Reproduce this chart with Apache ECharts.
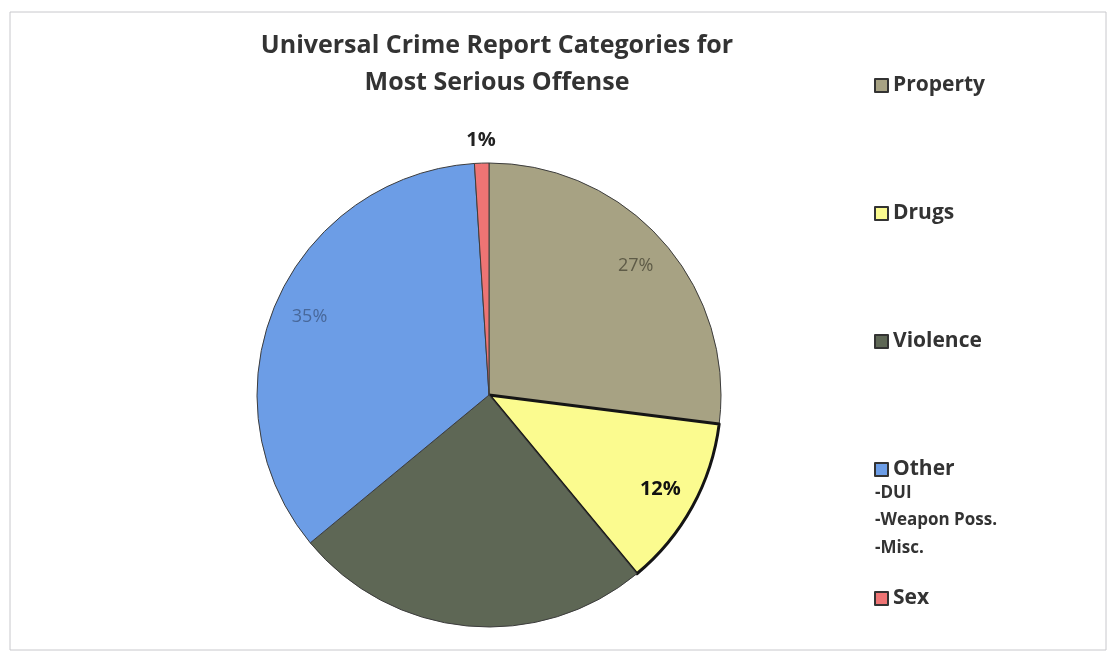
<!DOCTYPE html>
<html><head><meta charset="utf-8">
<script src="https://cdn.jsdelivr.net/npm/echarts@6/dist/echarts.min.js"></script>
<style>html,body{margin:0;padding:0;background:#fff}#c{width:1109px;height:656px}</style>
</head><body><div id="c"></div>
<script>
const categories = ['Property', 'Drugs', 'Violence', 'Other', 'Sex'];
const values = [27, 12, 25, 35, 1];
const labelTexts = ['27%', '12%', '', '35%', '1%'];
const otherSubItems = ['-DUI', '-Weapon Poss.', '-Misc.'];

const colors = ['#a7a283', '#fbfb8f', '#5e6755', '#6c9de6', '#ee7474'];
const FONT = '"Open Sans", "Noto Sans", sans-serif';

const chart = echarts.init(document.getElementById('c'), null, {renderer: 'canvas'});
const C = [489, 395], R = 232;

const mainData = categories.map((n, i) => ({
  name: n, value: values[i],
  itemStyle: {color: colors[i], borderColor: i === 1 ? '#151515' : '#3d3d3d', borderWidth: i === 1 ? 3 : 1}
}));

const innerLabelStyle = {
  Property: {color: '#5e5b47', fontWeight: 'normal', fontSize: 18},
  Drugs: {color: '#111', fontWeight: 'bold', fontSize: 20},
  Other: {color: '#48689a', fontWeight: 'normal', fontSize: 18}
};

const ringData = categories.map((n, i) => ({
  name: n, value: values[i],
  label: innerLabelStyle[n] ? Object.assign({show: true, formatter: labelTexts[i]}, innerLabelStyle[n]) : {show: false}
}));
const outerData = categories.map((n, i) => ({
  name: n, value: values[i],
  label: n === 'Sex' ? {show: true, formatter: labelTexts[i], color: '#222', fontWeight: 'bold', fontSize: 20} : {show: false}
}));

const legends = categories.map((n, i) => ({
  data: [n], left: 869, top: [70, 198, 326, 454, 583][i],
  icon: 'rect', itemWidth: 13, itemHeight: 13, itemGap: 0,
  itemStyle: {borderColor: '#333', borderWidth: 2},
  textStyle: {fontFamily: FONT, fontWeight: 'bold', fontSize: 21, color: '#333'},
  selectedMode: false
}));

chart.setOption({
  animation: false,
  backgroundColor: '#fff',
  title: {
    text: 'Universal Crime Report Categories for\nMost Serious Offense',
    left: 492, top: 22, textAlign: 'center',
    textStyle: {fontFamily: FONT, fontWeight: 'bold', fontSize: 25, color: '#333', lineHeight: 37}
  },
  legend: legends,
  graphic: [
    {type: 'rect', shape: {x: 10, y: 12, width: 1096, height: 638}, style: {fill: 'none', stroke: '#c8c8cc', lineWidth: 1}, silent: true},
    {type: 'text', left: 875, top: 479, style: {text: otherSubItems.join('\n'), font: 'bold 17px ' + FONT, fill: '#333', lineHeight: 27.5}}
  ],
  series: [
    {type: 'pie', center: C, radius: R, startAngle: 90, clockwise: true, data: mainData,
     label: {show: false}, labelLine: {show: false}, emphasis: {disabled: true}, silent: true},
    {type: 'pie', center: C, radius: [R * 0.66, R], startAngle: 90, clockwise: true, data: ringData,
     itemStyle: {color: 'rgba(0,0,0,0)'}, label: {position: 'inside', fontFamily: FONT},
     labelLine: {show: false}, emphasis: {disabled: true}, silent: true},
    {type: 'pie', center: C, radius: [R, R + 40], startAngle: 90, clockwise: true, data: outerData,
     itemStyle: {color: 'rgba(0,0,0,0)'}, label: {position: 'inside', fontFamily: FONT},
     labelLine: {show: false}, emphasis: {disabled: true}, silent: true}
  ]
});
</script></body></html>
